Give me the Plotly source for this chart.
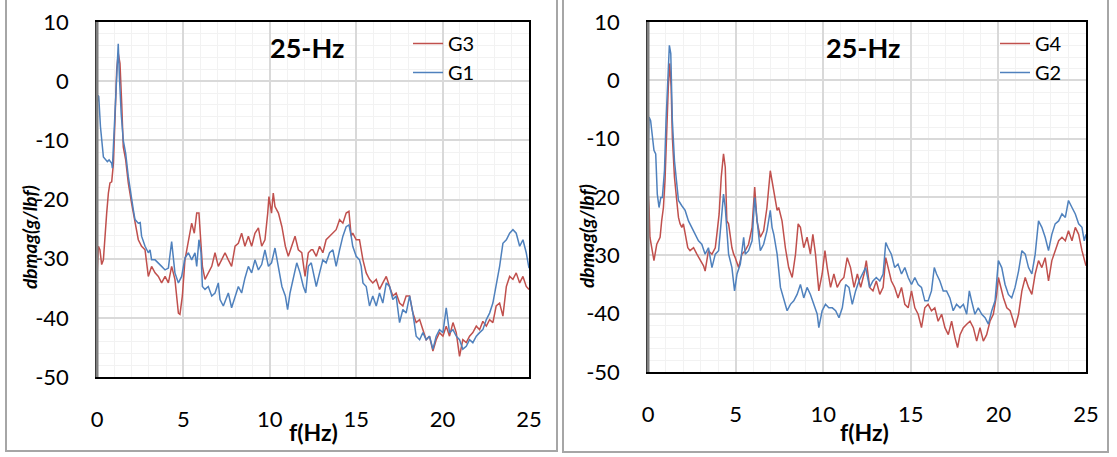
import plotly.graph_objects as go

# ---------------- data ----------------
f_G3 = [0, 0.08, 0.17, 0.27, 0.37, 0.46, 0.56, 0.66, 0.75, 0.85, 0.95, 1.04, 1.14, 1.23, 1.33, 1.43, 1.52, 1.66, 1.81, 2.0,
        2.2, 2.29, 2.39, 2.58, 2.78, 2.97, 3.16, 3.36, 3.55, 3.74, 3.94, 4.13, 4.32, 4.51, 4.71, 4.8, 4.94, 5.09, 5.29, 5.48,
        5.63, 5.77, 5.9, 6.02, 6.1, 6.25, 6.44, 6.64, 6.83, 7.02, 7.21, 7.41, 7.6, 7.79, 7.99, 8.18, 8.37, 8.56, 8.76, 8.95,
        9.14, 9.34, 9.53, 9.72, 9.88, 9.95, 10.1, 10.2, 10.3, 10.5, 10.7, 10.9, 11.07, 11.27, 11.46, 11.65, 11.85, 12.04, 12.23, 12.4,
        12.49, 12.69, 12.88, 13.07, 13.26, 13.46, 13.65, 13.84, 14.04, 14.23, 14.42, 14.58, 14.71, 14.8, 15.0, 15.19, 15.39, 15.58, 15.77, 15.96,
        16.16, 16.35, 16.54, 16.74, 16.93, 17.12, 17.31, 17.51, 17.7, 17.89, 18.09, 18.28, 18.47, 18.67, 18.86, 19.05, 19.24, 19.44, 19.63, 19.82,
        20.02, 20.21, 20.4, 20.6, 20.79, 20.98, 21.17, 21.37, 21.56, 21.75, 21.95, 22.14, 22.33, 22.53, 22.72, 22.91, 23.1, 23.3, 23.49, 23.69,
        23.88, 24.07, 24.26, 24.46, 24.65, 24.84, 25.0]
G3 = [-33.0, -27.9, -28.5, -31.0, -30.2, -25.7, -22.3, -18.9, -17.2, -17.0, -13.9, -6.6, 1.9, 4.7, 3.0, -3.8, -11.1, -13.3, -17.2, -20.6,
      -24.0, -25.7, -26.8, -27.9, -28.5, -33.0, -31.3, -32.4, -33.0, -34.1, -33.0, -34.1, -31.3, -33.5, -39.2, -39.4, -36.3, -30.2, -26.8, -24.0,
      -25.7, -22.3, -22.3, -26.8, -31.3, -33.5, -32.4, -31.3, -29.0, -31.3, -30.2, -29.0, -30.2, -31.3, -27.9, -27.4, -25.7, -27.9, -26.2, -27.9,
      -25.7, -24.8, -27.9, -26.8, -22.3, -19.5, -22.3, -18.9, -21.2, -22.3, -24.6, -27.9, -29.6, -27.9, -26.2, -28.5, -29.0, -33.0, -29.0, -28.5,
      -28.5, -29.6, -27.9, -29.0, -26.8, -26.2, -25.7, -25.1, -23.4, -24.0, -22.3, -22.0, -26.2, -25.7, -26.8, -26.8, -30.2, -32.4, -33.5, -34.1,
      -33.5, -35.2, -34.1, -33.0, -34.7, -36.3, -35.8, -37.5, -38.0, -36.3, -36.3, -39.2, -40.8, -40.3, -42.0, -43.7, -43.1, -45.6, -43.7, -42.5,
      -43.1, -41.4, -43.1, -40.8, -42.5, -46.5, -43.7, -44.2, -43.1, -42.5, -41.4, -42.0, -40.6, -41.4, -40.3, -40.8, -38.0, -37.5, -39.7, -34.7,
      -33.0, -33.5, -32.4, -34.1, -33.0, -34.7, -35.2]

f_G1 = [0, 0.06, 0.1, 0.2, 0.37, 0.5, 0.6, 0.7, 0.85, 0.89, 1.0, 1.1, 1.23, 1.3, 1.4, 1.52, 1.66, 1.81, 1.97, 2.1,
        2.2, 2.39, 2.5, 2.58, 2.78, 2.97, 3.07, 3.16, 3.36, 3.55, 3.74, 3.94, 4.13, 4.32, 4.51, 4.71, 4.9, 5.09, 5.29, 5.48,
        5.67, 5.77, 5.9, 6.02, 6.1, 6.25, 6.44, 6.64, 6.83, 7.02, 7.12, 7.31, 7.5, 7.6, 7.79, 7.99, 8.18, 8.37, 8.56, 8.76,
        8.95, 9.14, 9.34, 9.53, 9.72, 9.92, 10.1, 10.3, 10.5, 10.7, 10.9, 11.03, 11.17, 11.36, 11.56, 11.75, 11.94, 12.08, 12.23, 12.4,
        12.49, 12.69, 12.88, 13.07, 13.26, 13.46, 13.65, 13.84, 14.04, 14.23, 14.42, 14.58, 14.71, 14.8, 15.0, 15.19, 15.29, 15.39, 15.58, 15.77,
        15.96, 16.16, 16.35, 16.54, 16.74, 16.93, 17.12, 17.31, 17.51, 17.7, 17.89, 18.09, 18.28, 18.47, 18.67, 18.86, 19.05, 19.24, 19.44, 19.63,
        19.82, 20.02, 20.21, 20.4, 20.6, 20.79, 20.98, 21.17, 21.37, 21.56, 21.75, 21.95, 22.14, 22.33, 22.53, 22.72, 22.91, 23.1, 23.3, 23.49,
        23.69, 23.88, 24.07, 24.26, 24.46, 24.65, 24.84, 25.0]
G1 = [-4.0, -2.4, -2.6, -7.7, -12.8, -13.3, -13.6, -13.3, -13.9, -14.7, -8.3, -1.0, 6.3, 0.5, -5.5, -10.0, -12.2, -16.1, -19.5, -21.7,
      -23.4, -24.0, -23.9, -26.2, -27.9, -29.0, -28.5, -30.2, -30.2, -30.7, -31.3, -31.9, -31.6, -27.1, -32.4, -34.1, -33.0, -29.9, -29.0, -30.2,
      -29.0, -31.3, -26.8, -29.0, -34.7, -35.2, -34.7, -36.3, -35.8, -34.1, -36.9, -38.0, -36.3, -35.8, -38.3, -36.3, -34.7, -35.8, -33.3, -31.3,
      -32.4, -30.2, -31.9, -31.0, -28.5, -31.3, -30.7, -28.2, -31.3, -34.7, -36.3, -38.6, -35.8, -33.0, -30.7, -32.4, -34.7, -35.8, -31.3, -30.7,
      -31.9, -34.7, -32.4, -30.2, -30.7, -29.0, -28.5, -31.3, -28.5, -26.2, -24.6, -24.3, -26.2, -27.9, -29.6, -30.2, -31.3, -34.1, -34.7, -38.0,
      -36.3, -38.0, -35.8, -37.5, -34.1, -34.7, -36.9, -36.3, -40.8, -38.6, -39.2, -36.3, -39.2, -43.1, -43.7, -42.5, -43.7, -43.1, -45.3, -43.1,
      -42.0, -42.5, -38.3, -42.5, -42.0, -43.1, -43.7, -45.3, -44.8, -43.7, -44.2, -43.1, -42.5, -42.0, -40.3, -39.2, -37.5, -34.7, -31.3, -27.4,
      -26.8, -25.7, -25.1, -25.7, -27.9, -26.8, -29.0, -31.6]

f_G4 = [0, 0.06, 0.11, 0.21, 0.34, 0.5, 0.69, 0.78, 0.88, 0.97, 1.07, 1.16, 1.24, 1.32, 1.39, 1.51, 1.64, 1.74, 1.83, 1.93,
        2.02, 2.12, 2.27, 2.4, 2.6, 2.79, 2.98, 3.17, 3.26, 3.45, 3.65, 3.84, 3.93, 4.06, 4.18, 4.31, 4.41, 4.5, 4.6, 4.69,
        4.79, 4.89, 4.98, 5.17, 5.36, 5.55, 5.74, 5.94, 6.09, 6.22, 6.41, 6.6, 6.79, 6.98, 7.08, 7.18, 7.37, 7.46, 7.65, 7.84,
        8.03, 8.23, 8.42, 8.57, 8.7, 8.89, 9.08, 9.27, 9.41, 9.56, 9.75, 9.94, 10.1, 10.23, 10.42, 10.61, 10.8, 10.99, 11.18, 11.37,
        11.56, 11.76, 11.95, 12.14, 12.33, 12.46, 12.65, 12.84, 13.03, 13.23, 13.42, 13.57, 13.7, 13.89, 14.08, 14.27, 14.47, 14.66, 14.85, 15.04,
        15.23, 15.42, 15.61, 15.8, 15.99, 16.18, 16.37, 16.56, 16.76, 16.95, 17.14, 17.33, 17.52, 17.67, 17.81, 18.0, 18.19, 18.38, 18.57, 18.76,
        18.95, 19.14, 19.33, 19.52, 19.71, 19.9, 20.0, 20.1, 20.29, 20.48, 20.67, 20.86, 20.95, 21.15, 21.34, 21.53, 21.72, 21.91, 22.1, 22.29,
        22.48, 22.67, 22.86, 23.05, 23.24, 23.44, 23.63, 23.82, 24.0, 24.2, 24.39, 24.58, 24.77, 24.9, 25.0]
G4 = [-18.9, -21.8, -26.9, -28.7, -30.9, -28.1, -26.9, -24.1, -21.8, -17.2, -8.0, -1.1, 2.9, -1.1, -9.7, -16.6, -20.6, -23.5, -24.6, -25.2,
      -24.6, -26.4, -28.7, -29.2, -28.7, -29.8, -30.9, -31.8, -32.7, -29.2, -29.8, -28.7, -26.4, -22.9, -16.6, -12.6, -14.9, -24.1, -24.6, -26.4,
      -28.7, -29.8, -30.4, -32.1, -29.8, -29.2, -28.1, -25.2, -18.3, -24.1, -26.9, -25.8, -21.8, -15.5, -17.2, -18.9, -22.3, -21.8, -24.1, -28.7,
      -32.1, -33.8, -29.8, -24.6, -25.2, -28.7, -26.9, -29.8, -26.4, -29.8, -36.1, -33.2, -29.2, -32.1, -35.5, -33.2, -35.5, -34.4, -33.8, -30.4,
      -32.1, -35.5, -33.2, -35.5, -33.2, -30.9, -35.5, -36.1, -34.4, -36.7, -35.5, -30.4, -32.1, -34.4, -35.5, -37.3, -35.5, -38.4, -39.0, -36.1,
      -39.0, -40.1, -42.4, -39.0, -38.4, -39.5, -39.0, -41.3, -40.1, -42.4, -43.6, -41.3, -44.1, -45.8, -43.6, -42.4, -41.8, -41.3, -42.4, -44.7,
      -42.4, -44.7, -43.6, -41.3, -40.1, -36.7, -33.8, -35.0, -37.3, -39.0, -39.5, -41.3, -42.4, -40.1, -36.1, -33.8, -35.5, -36.7, -33.2, -30.9,
      -32.1, -30.4, -34.4, -30.9, -29.2, -27.5, -26.9, -27.5, -25.8, -27.5, -25.2, -26.4, -29.2, -30.9, -31.8]

f_G2 = [0, 0.06, 0.15, 0.25, 0.34, 0.44, 0.53, 0.63, 0.73, 0.82, 0.94, 1.03, 1.13, 1.22, 1.3, 1.39, 1.51, 1.64, 1.74, 1.93,
        2.12, 2.31, 2.5, 2.69, 2.88, 3.07, 3.26, 3.45, 3.65, 3.84, 4.03, 4.18, 4.31, 4.41, 4.5, 4.6, 4.79, 4.94, 5.08, 5.27,
        5.46, 5.55, 5.74, 5.94, 6.09, 6.22, 6.41, 6.6, 6.79, 6.98, 7.08, 7.18, 7.37, 7.56, 7.75, 7.94, 8.13, 8.32, 8.51, 8.7,
        8.89, 9.08, 9.27, 9.47, 9.66, 9.75, 9.94, 10.13, 10.32, 10.52, 10.71, 10.9, 11.09, 11.28, 11.47, 11.66, 11.85, 12.04, 12.23, 12.42,
        12.65, 12.84, 13.03, 13.23, 13.42, 13.57, 13.7, 13.89, 14.08, 14.27, 14.47, 14.66, 14.85, 15.04, 15.23, 15.42, 15.61, 15.8, 15.99, 16.18,
        16.34, 16.47, 16.66, 16.85, 17.04, 17.23, 17.42, 17.61, 17.81, 18.0, 18.19, 18.34, 18.47, 18.66, 18.85, 19.05, 19.24, 19.43, 19.62, 19.81,
        20.0, 20.19, 20.38, 20.57, 20.76, 20.95, 21.15, 21.34, 21.53, 21.72, 21.91, 22.1, 22.29, 22.48, 22.67, 22.86, 23.05, 23.24, 23.44, 23.63,
        23.82, 24.0, 24.2, 24.39, 24.58, 24.77, 24.9, 25.0]
G2 = [-12.6, -6.3, -6.9, -9.2, -12.0, -12.6, -19.5, -21.8, -20.1, -20.1, -15.5, -6.9, 1.7, 6.0, 4.6, -6.9, -13.8, -17.8, -20.6, -21.5,
      -22.3, -24.1, -25.2, -26.4, -27.5, -28.1, -29.8, -28.7, -32.1, -29.8, -29.2, -24.1, -19.5, -21.8, -25.2, -29.8, -32.1, -36.1, -33.2, -31.5,
      -26.9, -29.8, -29.2, -27.5, -20.1, -24.1, -29.2, -28.1, -25.8, -22.3, -25.2, -26.4, -29.8, -35.5, -37.3, -39.5, -38.4, -37.8, -36.7, -35.0,
      -37.3, -35.5, -36.7, -38.4, -40.1, -42.4, -39.5, -38.4, -39.0, -39.0, -39.5, -40.7, -39.0, -35.0, -35.5, -38.4, -36.1, -34.4, -33.2, -32.1,
      -35.5, -34.4, -33.8, -34.4, -33.2, -27.8, -28.7, -29.8, -32.1, -31.5, -33.2, -32.1, -33.8, -35.0, -33.8, -35.0, -35.5, -37.8, -37.8, -36.1,
      -32.1, -33.2, -34.4, -36.1, -36.1, -37.3, -39.5, -38.4, -39.0, -38.4, -40.1, -36.1, -37.8, -40.1, -39.0, -40.1, -40.7, -41.8, -39.5, -37.8,
      -30.9, -32.1, -35.0, -36.7, -37.3, -35.5, -32.7, -29.2, -29.8, -32.1, -33.2, -29.8, -24.1, -25.2, -26.9, -29.2, -26.4, -24.6, -24.1, -22.9,
      -23.5, -20.6, -21.8, -22.9, -24.6, -25.2, -27.5, -26.4]

x_ticks = [0, 5, 10, 15, 20, 25]
x_ticktext = ["0", "5", "10", "15", "20", "25"]
y_ticks = [10, 0, -10, -20, -30, -40, -50]
y_ticktext = ["10", "0", "-10", "-20", "-30", "-40", "-50"]

RED = "#C0504D"
BLUE = "#4F81BD"
W, H = 1117, 457
FONT = "Lato"


def px(x):
    return x / W


def py(y):
    return 1 - y / H


fig = go.Figure()
fig.add_trace(go.Scatter(x=f_G3, y=G3, name="G3", mode="lines", line=dict(color=RED, width=1.5),
                         xaxis="x", yaxis="y", legend="legend"))
fig.add_trace(go.Scatter(x=f_G1, y=G1, name="G1", mode="lines", line=dict(color=BLUE, width=1.5),
                         xaxis="x", yaxis="y", legend="legend"))
fig.add_trace(go.Scatter(x=f_G4, y=G4, name="G4", mode="lines", line=dict(color=RED, width=1.5),
                         xaxis="x2", yaxis="y2", legend="legend2"))
fig.add_trace(go.Scatter(x=f_G2, y=G2, name="G2", mode="lines", line=dict(color=BLUE, width=1.5),
                         xaxis="x2", yaxis="y2", legend="legend2"))

common_x = dict(range=[0, 25], tickvals=x_ticks, ticktext=x_ticktext, showgrid=True, gridcolor="#D9D9D9",
                gridwidth=1.5, zeroline=False, showline=True, mirror=True, linecolor="black", linewidth=1.5,
                ticks="", ticklabelstandoff=22, automargin=False,
                tickfont=dict(family=FONT, size=22, color="black"),
                minor=dict(dtick=1, showgrid=True, gridcolor="#F2F2F2", gridwidth=1))
common_y = dict(range=[-50, 10], tickvals=y_ticks, ticktext=y_ticktext, showgrid=True, gridcolor="#D9D9D9",
                gridwidth=1.5, zeroline=False, showline=True, mirror=True, linecolor="black", linewidth=1.5,
                ticks="", ticklabelstandoff=22, automargin=False,
                tickfont=dict(family=FONT, size=22, color="black"),
                minor=dict(dtick=2, showgrid=True, gridcolor="#F2F2F2", gridwidth=1))

fig.update_layout(
    width=W, height=H, margin=dict(l=0, r=0, t=0, b=0, autoexpand=False),
    paper_bgcolor="white", plot_bgcolor="white",
    font=dict(family=FONT, color="black"),
    xaxis=dict(domain=[px(97), px(529)], anchor="y", **common_x),
    yaxis=dict(domain=[py(377), py(22)], anchor="x", **common_y),
    xaxis2=dict(domain=[px(648), px(1086)], anchor="y2", **common_x),
    yaxis2=dict(domain=[py(372), py(22)], anchor="x2", **common_y),
    legend=dict(x=px(408), y=py(24), xanchor="left", yanchor="top", bgcolor="rgba(0,0,0,0)",
                font=dict(family=FONT, size=20, color="black")),
    legend2=dict(x=px(995), y=py(24), xanchor="left", yanchor="top", bgcolor="rgba(0,0,0,0)",
                 font=dict(family=FONT, size=20, color="black")),
    showlegend=True,
)

shapes = []
# outer panel frames
shapes.append(dict(type="rect", xref="paper", yref="paper", x0=px(6), x1=px(557), y0=py(451), y1=1.05,
                   line=dict(color="#A6A6A6", width=2), layer="below"))
shapes.append(dict(type="rect", xref="paper", yref="paper", x0=px(563), x1=px(1108), y0=py(452), y1=1.05,
                   line=dict(color="#A6A6A6", width=2), layer="below"))
# grey left axis lines
shapes.append(dict(type="line", xref="x domain", yref="y domain", x0=0, x1=0, y0=0, y1=1,
                   line=dict(color="#7F7F7F", width=3)))
shapes.append(dict(type="line", xref="x2 domain", yref="y2 domain", x0=0, x1=0, y0=0, y1=1,
                   line=dict(color="#7F7F7F", width=3)))

annotations = []
for cx, cy_title in [(29, 237), (586, 236)]:
    annotations.append(dict(text="<b><i>dbmag(g/lbf)</i></b>", x=px(cx), y=py(cy_title), xref="paper", yref="paper",
                            showarrow=False, textangle=-90, xanchor="center", yanchor="middle",
                            font=dict(family=FONT, size=19, color="black")))
for cx in [313, 865]:
    annotations.append(dict(text="<b>f(Hz)</b>", x=px(cx), y=py(432), xref="paper", yref="paper",
                            showarrow=False, xanchor="center", yanchor="middle",
                            font=dict(family=FONT, size=23, color="black")))
for cx in [307, 863]:
    annotations.append(dict(text="<b>25-Hz</b>", x=px(cx), y=py(47), xref="paper", yref="paper",
                            showarrow=False, xanchor="center", yanchor="middle",
                            font=dict(family=FONT, size=27, color="black")))

fig.update_layout(shapes=shapes, annotations=annotations)
fig.write_html("out.html")
